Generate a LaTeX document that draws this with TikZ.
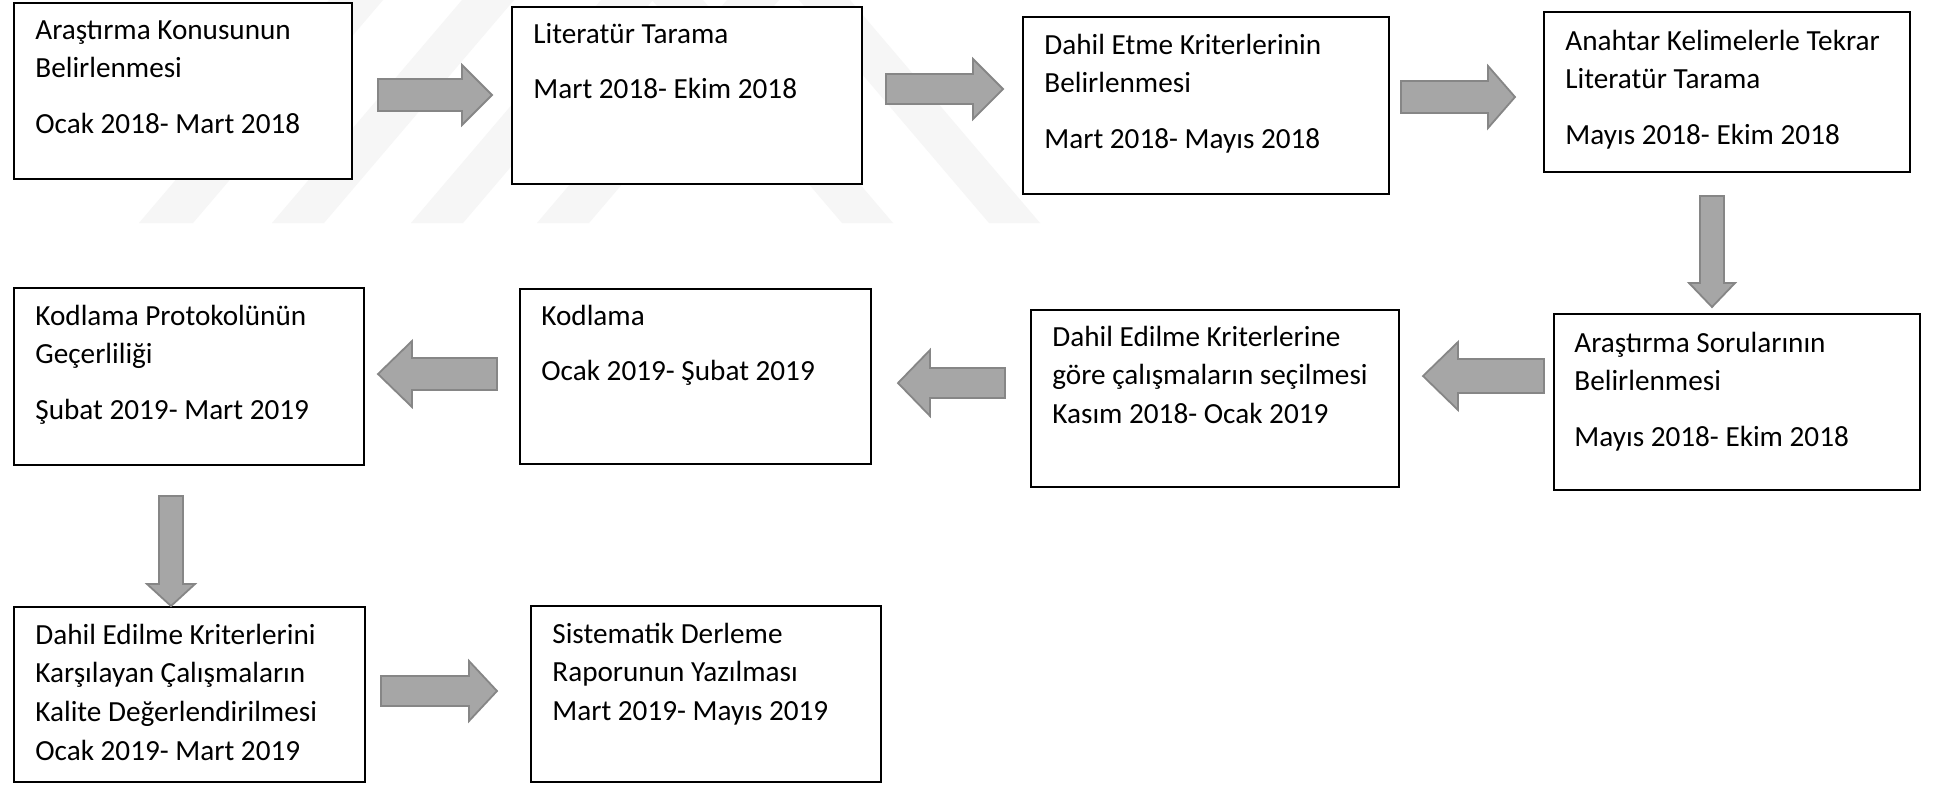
\documentclass[tikz,border=0pt]{standalone}
\usepackage{fontspec}
\setmainfont{Carlito}
\usetikzlibrary{calc}
\tikzset{
  box/.style={draw=black, line width=1pt, fill=white, inner sep=0pt, rectangle},
  boxtext/.style={anchor=base west, inner sep=0pt, font=\fontsize{14.6}{19.4}\selectfont},
  blockarrow/.style={fill=gray!70, draw=gray!95, line width=0.9pt, line join=miter},
  watermark/.style={fill=gray!7, draw=none}
}
\newcommand\hblockarrow[7]{% name, x0, xhead, xtip, yc, body half, head half
  \filldraw[blockarrow] (#2,{#5-#6}) -- (#3,{#5-#6}) -- (#3,{#5-#7}) -- (#4,#5) coordinate (#1)
    -- (#3,{#5+#7}) -- (#3,{#5+#6}) -- (#2,{#5+#6}) -- cycle;}
\newcommand\vblockarrow[7]{% name, y0, yhead, ytip, xc, body half, head half
  \filldraw[blockarrow] ({#5-#6},#2) -- ({#5-#6},#3) -- ({#5-#7},#3) -- (#5,#4) coordinate (#1)
    -- ({#5+#7},#3) -- ({#5+#6},#3) -- ({#5+#6},#2) -- cycle;}
\newcommand\wmstripe[3]{% bottom-left x, bottom-right x, shift at top
  \fill[watermark] (#1,223) -- (#2,223) -- ({#2+#3},0) -- ({#1+#3},0) -- cycle;}
\begin{document}
\begin{tikzpicture}[x=0.5pt, y=-0.5pt]
\useasboundingbox (0,0) rectangle (1942,784);
\fill[white] (0,0) rectangle (1942,784);
% faint watermark
\wmstripe{139}{193}{190}
\wmstripe{272}{324}{190}
\wmstripe{411}{463}{190}
\wmstripe{537}{589}{190}
\wmstripe{842}{893}{-190}
\wmstripe{989}{1040}{-190}
% boxes
\node[box, minimum width=169pt, minimum height=88pt] (b1) at (183,91) {};
\node[box, minimum width=175pt, minimum height=88.5pt] (b2) at (687,95.5) {};
\node[box, minimum width=183pt, minimum height=88.5pt] (b3) at (1206,105.5) {};
\node[box, minimum width=183pt, minimum height=80pt] (b4) at (1727,92) {};
\node[box, minimum width=183pt, minimum height=88pt] (b5) at (1737,402) {};
\node[box, minimum width=184pt, minimum height=88.5pt] (b6) at (1215,398.5) {};
\node[box, minimum width=175.5pt, minimum height=87.5pt] (b7) at (695.5,376.5) {};
\node[box, minimum width=175pt, minimum height=88.5pt] (b8) at (189,376.5) {};
\node[box, minimum width=175.5pt, minimum height=87.5pt] (b9) at (189.5,694.5) {};
\node[box, minimum width=175pt, minimum height=88pt] (b10) at (706,694) {};
% texts
\node[boxtext] (t1) at ($(b1.north west)+(22,37)$) {\parbox[t]{190pt}{\raggedright Araştırma Konusunun\\Belirlenmesi\\[8.5pt]Ocak 2018- Mart 2018}};
\node[boxtext] (t2) at ($(b2.north west)+(22,37)$) {\parbox[t]{190pt}{\raggedright Literatür Tarama\\[8.5pt]Mart 2018- Ekim 2018}};
\node[boxtext] (t3) at ($(b3.north west)+(22,38)$) {\parbox[t]{190pt}{\raggedright Dahil Etme Kriterlerinin\\Belirlenmesi\\[8.5pt]Mart 2018- Mayıs 2018}};
\node[boxtext] (t4) at ($(b4.north west)+(22,39)$) {\parbox[t]{190pt}{\raggedright Anahtar Kelimelerle Tekrar\\Literatür Tarama\\[8.5pt]Mayıs 2018- Ekim 2018}};
\node[boxtext] (t5) at ($(b5.north west)+(21,39)$) {\parbox[t]{190pt}{\raggedright Araştırma Sorularının\\Belirlenmesi\\[8.5pt]Mayıs 2018- Ekim 2018}};
\node[boxtext] (t6) at ($(b6.north west)+(22,37)$) {\parbox[t]{190pt}{\raggedright Dahil Edilme Kriterlerine\\göre çalışmaların seçilmesi\\Kasım 2018- Ocak 2019}};
\node[boxtext] (t7) at ($(b7.north west)+(22,37)$) {\parbox[t]{190pt}{\raggedright Kodlama\\[8.5pt]Ocak 2019- Şubat 2019}};
\node[boxtext] (t8) at ($(b8.north west)+(22,38)$) {\parbox[t]{190pt}{\raggedright Kodlama Protokolünün\\Geçerliliği\\[8.5pt]Şubat 2019- Mart 2019}};
\node[boxtext] (t9) at ($(b9.north west)+(22,38)$) {\parbox[t]{190pt}{\raggedright Dahil Edilme Kriterlerini\\Karşılayan Çalışmaların\\Kalite Değerlendirilmesi\\Ocak 2019- Mart 2019}};
\node[boxtext] (t10) at ($(b10.north west)+(22,38)$) {\parbox[t]{190pt}{\raggedright Sistematik Derleme\\Raporunun Yazılması\\Mart 2019- Mayıs 2019}};
% block arrows
\hblockarrow{a1}{378}{462}{492}{95}{16}{30}
\hblockarrow{a2}{886}{973}{1003}{89}{15}{30}
\hblockarrow{a3}{1401}{1488}{1515}{97}{16}{31}
\vblockarrow{a4}{196}{283}{307}{1712}{12}{23}
\hblockarrow{a5}{1544}{1458}{1423}{376}{17}{34}
\hblockarrow{a6}{1005}{930}{898}{383}{15}{33}
\hblockarrow{a7}{497}{412}{378}{374}{16}{33}
\vblockarrow{a8}{496}{584}{606}{171}{12}{24}
\hblockarrow{a9}{381}{469}{497}{691}{15}{30}
\end{tikzpicture}
\end{document}
